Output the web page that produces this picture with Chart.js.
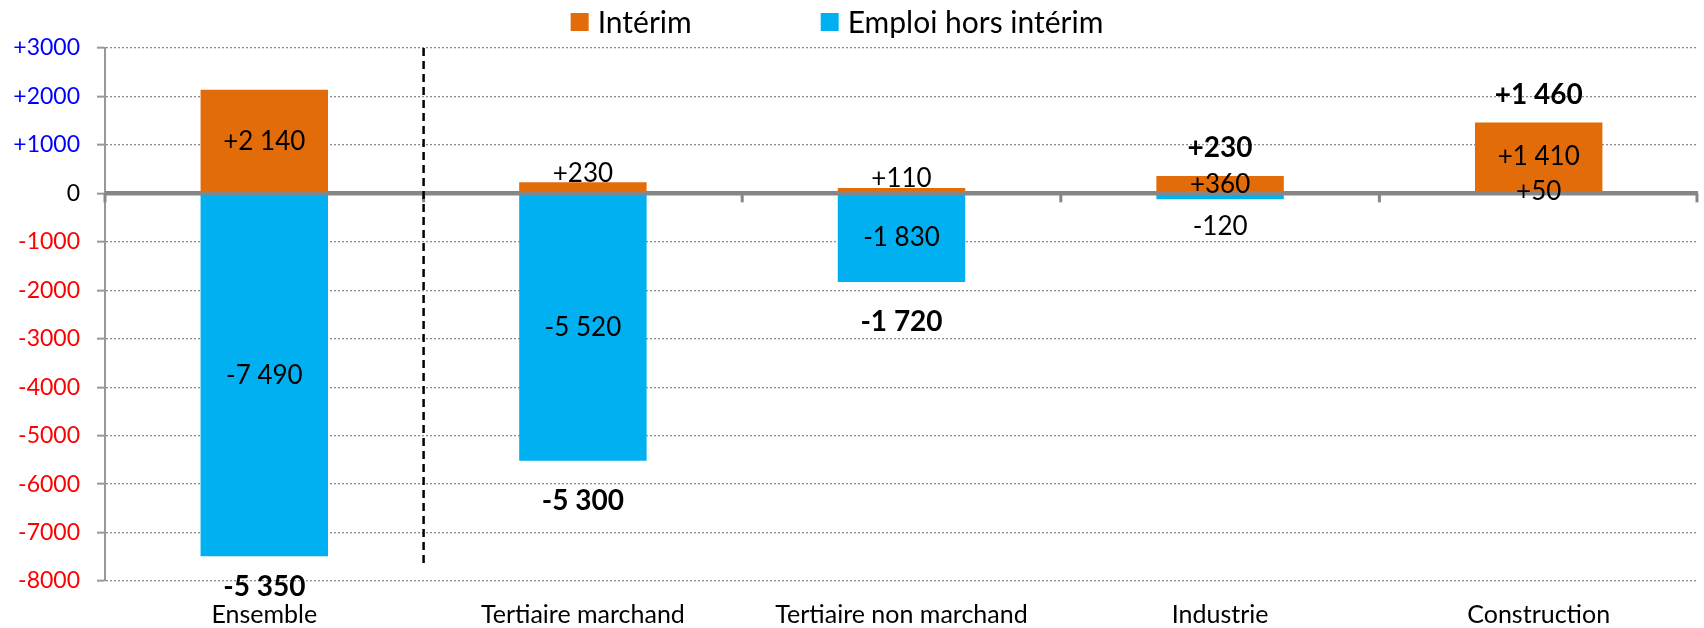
<!DOCTYPE html>
<html>
<head>
<meta charset="utf-8">
<script src="https://cdn.jsdelivr.net/npm/chart.js@4.4.1/dist/chart.umd.min.js"></script>
<style>
  html, body { margin: 0; padding: 0; background: #fff; }
  #wrap { width: 1704px; height: 628px; }
</style>
</head>
<body>
<div id="wrap"><canvas id="chart" width="1704" height="628"></canvas></div>
<script>
  // data
  const categories = ['Ensemble', 'Tertiaire marchand', 'Tertiaire non marchand', 'Industrie', 'Construction'];
  const interim = [2140, 230, 110, 360, 1410];
  const horsInterim = [-7490, -5520, -1830, -120, 50];
  const totals = [-5350, -5300, -1720, 230, 1460];
  const yMin = -8000;
  const yMax = 3000;
  const yStep = 1000;

  const ORANGE = '#E36C0A';
  const CYAN = '#00B0F0';
  const FONT = 'Lato';

  // French style numbers: +2 140, -5 350
  function fmt(v) {
    const s = String(Math.abs(v)).replace(/\B(?=(\d{3})+(?!\d))/g, ' ');
    return (v > 0 ? '+' : v < 0 ? '-' : '') + s;
  }

  const overlay = {
    id: 'overlay',
    afterDatasetsDraw(chart) {
      const { ctx, chartArea, scales: { x, y } } = chart;
      const y0 = y.getPixelForValue(0);
      ctx.save();

      // zero line over the bars
      ctx.strokeStyle = '#868686';
      ctx.lineWidth = 4.5;
      ctx.beginPath();
      ctx.moveTo(chartArea.left, y0);
      ctx.lineTo(chartArea.right, y0);
      ctx.stroke();

      // category tick marks hanging under the zero line
      ctx.lineWidth = 3;
      for (let i = 0; i <= categories.length; i++) {
        let xp;
        if (i === 0) xp = chartArea.left;
        else if (i === categories.length) xp = chartArea.right - 1;
        else xp = (x.getPixelForValue(i - 1) + x.getPixelForValue(i)) / 2;
        ctx.beginPath();
        ctx.moveTo(xp, y0);
        ctx.lineTo(xp, y0 + 9);
        ctx.stroke();
      }

      // dashed separator after "Ensemble"
      const xd = (x.getPixelForValue(0) + x.getPixelForValue(1)) / 2;
      ctx.strokeStyle = '#000';
      ctx.lineWidth = 2.5;
      ctx.setLineDash([8, 5]);
      ctx.beginPath();
      ctx.moveTo(xd, chartArea.top);
      ctx.lineTo(xd, chartArea.bottom - 14);
      ctx.stroke();
      ctx.setLineDash([]);

      // value labels on each segment
      ctx.textAlign = 'center';
      ctx.textBaseline = 'middle';
      ctx.fillStyle = '#000';
      ctx.font = '26px ' + FONT;
      chart.data.datasets.forEach((ds, di) => {
        chart.getDatasetMeta(di).data.forEach((bar, i) => {
          const v = ds.data[i];
          const top = Math.min(bar.y, bar.base);
          const bottom = Math.max(bar.y, bar.base);
          const h = bottom - top;
          let ly = (top + bottom) / 2;
          if (h >= 4 && h < 14) ly = v > 0 ? top - 9 : bottom + 27;
          ctx.fillText(fmt(v), bar.x, ly);
        });
      });

      // bold totals beyond the bar ends
      ctx.font = 'bold 28px ' + FONT;
      totals.forEach((t, i) => {
        let lo = Infinity, hi = -Infinity;
        chart.data.datasets.forEach((ds, di) => {
          const bar = chart.getDatasetMeta(di).data[i];
          lo = Math.min(lo, bar.y, bar.base);
          hi = Math.max(hi, bar.y, bar.base);
        });
        const ly = t < 0 ? Math.min(hi + 40, chartArea.bottom + 6) : lo - 28;
        ctx.fillText(fmt(t), x.getPixelForValue(i), ly);
      });

      ctx.restore();
    },
    afterDraw(chart) {
      // legend, drawn by hand to get the wide gap between the two items
      const { ctx } = chart;
      const items = chart.data.datasets.slice().reverse();
      const box = 18, gapText = 9, gapItem = 129;
      ctx.save();
      ctx.font = '30px ' + FONT;
      ctx.textBaseline = 'middle';
      ctx.textAlign = 'left';
      let total = 0;
      items.forEach((ds, i) => {
        total += box + gapText + ctx.measureText(ds.label).width + (i ? gapItem : 0);
      });
      let xp = chart.width / 2 - 15 - total / 2;
      const yc = 22;
      items.forEach(ds => {
        ctx.fillStyle = ds.backgroundColor;
        ctx.fillRect(xp, yc - box / 2, box, box);
        xp += box + gapText;
        ctx.fillStyle = '#000';
        ctx.fillText(ds.label, xp, yc + 1);
        xp += ctx.measureText(ds.label).width + gapItem;
      });
      ctx.restore();
    }
  };

  const ctx = document.getElementById('chart').getContext('2d');
  new Chart(ctx, {
    type: 'bar',
    data: {
      labels: categories,
      datasets: [
        {
          label: 'Emploi hors intérim',
          data: horsInterim,
          backgroundColor: CYAN,
          barPercentage: 0.4,
          categoryPercentage: 1
        },
        {
          label: 'Intérim',
          data: interim,
          backgroundColor: ORANGE,
          barPercentage: 0.4,
          categoryPercentage: 1
        }
      ]
    },
    options: {
      responsive: false,
      animation: false,
      devicePixelRatio: 1,
      layout: { padding: { top: 48, right: 6, bottom: 0, left: 0 } },
      plugins: {
        legend: { display: false },
        tooltip: { enabled: false }
      },
      scales: {
        x: {
          stacked: true,
          grid: { display: false, drawTicks: false },
          border: { display: false },
          ticks: {
            color: '#000',
            padding: 19,
            font: { family: FONT, size: 25 }
          },
          afterFit: scale => { scale.height = 47; }
        },
        y: {
          stacked: true,
          min: yMin,
          max: yMax,
          ticks: {
            stepSize: yStep,
            padding: 17,
            font: { family: FONT, size: 23 },
            color: c => c.tick.value > 0 ? '#0000FF' : c.tick.value < 0 ? '#FF0000' : '#000',
            callback: v => (v > 0 ? '+' + v : String(v))
          },
          grid: {
            color: c => (c.tick && c.tick.value === 0) ? 'rgba(0,0,0,0)' : '#8c8c8c',
            lineWidth: 1.3,
            tickLength: 8,
            tickColor: '#989898',
            tickWidth: 2
          },
          border: { display: true, color: '#989898', width: 2, dash: [2, 2] },
          afterFit: scale => { scale.width = 105; }
        }
      }
    },
    plugins: [overlay]
  });
</script>
</body>
</html>
